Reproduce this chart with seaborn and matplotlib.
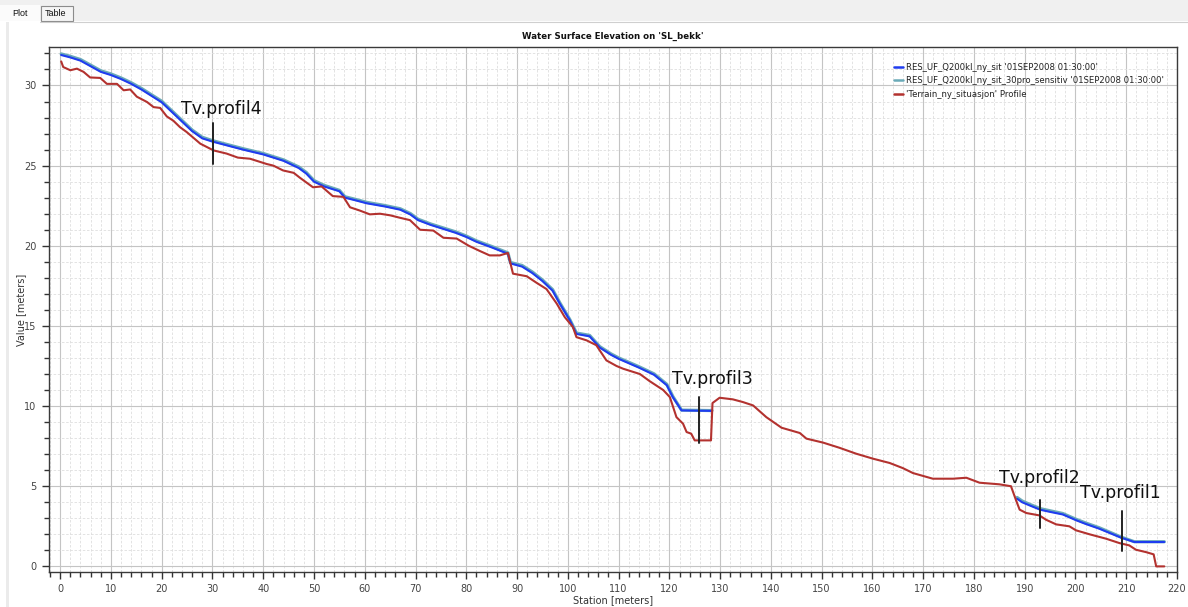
import numpy as np
import pandas as pd
import matplotlib
matplotlib.use("Agg")
import matplotlib.pyplot as plt
from matplotlib.lines import Line2D
from matplotlib.patches import Rectangle
from matplotlib.ticker import MultipleLocator
import seaborn as sns

# ---------------- data ----------------
ws_station = [0.2, 2, 4, 6, 8, 10, 12, 14, 16, 18, 20, 22, 24, 26, 28, 30, 33, 36, 40, 44,
              47, 48.5, 50, 52, 55, 56.1, 58, 60.4, 64, 67, 69, 70.5, 73, 75, 78, 80, 82, 85,
              88.2, 88.7, 91, 93, 95, 97, 98.4, 100.4, 101.7, 104.3, 106.3, 108.5, 110, 114,
              117, 119.5, 120.7, 122.4, 128.4,
              188.5, 189.5, 191, 193.1, 195, 197.5, 200.2, 202, 204.7, 207, 209, 211.6, 217.5]
ws_segment = [1] * 57 + [2] * 13
ws_q200 = [31.9, 31.75, 31.55, 31.2, 30.85, 30.65, 30.4, 30.1, 29.75, 29.35, 28.95, 28.35,
           27.75, 27.15, 26.7, 26.5, 26.25, 26.0, 25.7, 25.3, 24.85, 24.5, 24.0, 23.7, 23.4,
           23.0, 22.85, 22.65, 22.45, 22.25, 21.95, 21.6, 21.3, 21.1, 20.8, 20.55, 20.25, 19.9,
           19.5, 18.9, 18.7, 18.3, 17.8, 17.2, 16.4, 15.35, 14.5, 14.35, 13.65, 13.2, 12.95,
           12.4, 11.95, 11.3, 10.55, 9.73, 9.7,
           4.22, 4.0, 3.8, 3.53, 3.4, 3.24, 2.87, 2.65, 2.35, 2.05, 1.79, 1.52, 1.52]
ws_q200_30pro = [31.97, 31.82, 31.62, 31.27, 30.92, 30.72, 30.47, 30.17, 29.82, 29.42, 29.02,
                 28.42, 27.82, 27.22, 26.77, 26.56, 26.31, 26.06, 25.76, 25.36, 24.92, 24.57,
                 24.07, 23.77, 23.46, 23.06, 22.91, 22.71, 22.51, 22.31, 22.01, 21.66, 21.36,
                 21.16, 20.86, 20.61, 20.31, 19.96, 19.56, 18.96, 18.77, 18.37, 17.87, 17.27,
                 16.46, 15.4, 14.56, 14.41, 13.71, 13.26, 13.01, 12.46, 12.01, 11.36, 10.6,
                 9.75, 9.72,
                 4.3, 4.08, 3.87, 3.6, 3.47, 3.3, 2.93, 2.71, 2.41, 2.1, 1.83, 1.54, 1.54]

terrain_station = [0.2, 0.6, 2, 3.3, 4.6, 5.9, 7.9, 9.2, 11.2, 12.5, 13.8, 15.1, 17.1, 18.4,
                   19.7, 21, 22.3, 23.6, 24.9, 26.2, 27.6, 30.2, 32.8, 35, 37.4, 40.7, 42,
                   43.9, 46, 47.2, 49.8, 51.5, 53.7, 55.8, 57.1, 59, 61, 63, 65, 66.9, 68.9,
                   70.9, 73.5, 75.5, 78.1, 80.5, 82.7, 84.6, 86.6, 88.2, 89.2, 91.9, 93.8,
                   95.8, 97.8, 99.4, 101, 101.7, 103.7, 105.6, 107.6, 109.6, 110.9, 114.2,
                   116.1, 118.8, 120.1, 121.4, 122.7, 123.4, 124.3, 125, 128.2, 128.5, 129.9,
                   132.5, 134.5, 136.5, 139.1, 142.1, 145.7, 147, 150.3, 153.5, 156.8, 160.1,
                   163.4, 166, 168, 171.9, 175.9, 178.5, 181.1, 185, 187.3, 188.3, 189, 190.3,
                   192.9, 194.2, 196.2, 198.8, 200.1, 202.8, 206, 208.7, 210.6, 211.9, 213.9,
                   215.4, 215.9, 217.5]
terrain = [31.5, 31.15, 30.95, 31.05, 30.85, 30.5, 30.47, 30.1, 30.1, 29.7, 29.75, 29.3,
           28.97, 28.65, 28.6, 28.07, 27.8, 27.4, 27.1, 26.75, 26.37, 25.95, 25.75, 25.5,
           25.43, 25.1, 25.0, 24.7, 24.55, 24.25, 23.65, 23.7, 23.1, 23.05, 22.4, 22.2,
           21.96, 22.0, 21.9, 21.75, 21.6, 21.0, 20.95, 20.5, 20.45, 20.0, 19.67, 19.4, 19.4,
           19.55, 18.26, 18.1, 17.7, 17.3, 16.4, 15.55, 14.93, 14.3, 14.1, 13.8, 12.85, 12.5,
           12.33, 12.0, 11.56, 11.0, 10.56, 9.31, 8.9, 8.38, 8.28, 7.86, 7.86, 10.19, 10.52,
           10.42, 10.25, 10.04, 9.31, 8.65, 8.32, 7.97, 7.72, 7.4, 7.03, 6.72, 6.45, 6.13,
           5.82, 5.47, 5.47, 5.53, 5.22, 5.12, 5.0, 4.12, 3.54, 3.33, 3.18, 2.91, 2.62, 2.5,
           2.25, 2.0, 1.73, 1.45, 1.31, 1.04, 0.89, 0.75, 0.0, 0.0]

series_names = ["RES_UF_Q200kl_ny_sit '01SEP2008 01:30:00'",
                "RES_UF_Q200kl_ny_sit_30pro_sensitiv '01SEP2008 01:30:00'",
                "'Terrain_ny_situasjon' Profile"]
series_colors = ["#1f3cf0", "#6aaab8", "#b3322f"]

profile_labels = ["Tv.profil4", "Tv.profil3", "Tv.profil2", "Tv.profil1"]
profile_station = [30.1, 125.8, 193.1, 209.1]
profile_line_top = [27.65, 10.56, 4.16, 3.43]
profile_line_bottom = [25.08, 7.7, 2.39, 0.96]
profile_text_x = [23.9, 120.6, 185.0, 200.8]
profile_text_y = [28.24, 11.4, 5.2, 4.26]

title = "Water Surface Elevation on 'SL_bekk'"
xlabel = "Station [meters]"
ylabel = "Value [meters]"

# ---------------- build long table ----------------
frames = []
frames.append(pd.DataFrame({"station": ws_station, "value": ws_q200_30pro,
                            "series": series_names[1],
                            "unit": [f"b{s}" for s in ws_segment]}))
frames.append(pd.DataFrame({"station": ws_station, "value": ws_q200,
                            "series": series_names[0],
                            "unit": [f"a{s}" for s in ws_segment]}))
frames.append(pd.DataFrame({"station": terrain_station, "value": terrain,
                            "series": series_names[2], "unit": "c1"}))
df = pd.concat(frames, ignore_index=True)

# ---------------- figure ----------------
sns.set_theme(style="white")
plt.rcParams["font.family"] = ["DejaVu Sans"]

fig = plt.figure(figsize=(11.88, 6.07), dpi=100)
fig.patch.set_facecolor("white")
W, H = 1188.0, 607.0

# window chrome: tab bar
fig.patches.append(Rectangle((0, 1 - 21 / H), 1, 21 / H, transform=fig.transFigure,
                             facecolor="#f0f0f0", edgecolor="none", zorder=0))
fig.patches.append(Rectangle((0, 1 - 21 / H), 40 / W, 16 / H, transform=fig.transFigure,
                             facecolor="#fbfbfb", edgecolor="none", zorder=1))
fig.patches.append(Rectangle((41 / W, 1 - 21 / H), 32 / W, 15 / H, transform=fig.transFigure,
                             facecolor="#f5f5f5", edgecolor="#8c8c8c", lw=0.8, zorder=1))
fig.lines.append(Line2D([40 / W, 1], [1 - 21.5 / H, 1 - 21.5 / H], transform=fig.transFigure,
                        color="#cfcfcf", lw=0.8))
fig.patches.append(Rectangle((6 / W, 0), 2.5 / W, 1 - 22 / H, transform=fig.transFigure,
                             facecolor="#ebebeb", edgecolor="none", zorder=0))
fig.text(12 / W, 1 - 14 / H, "Plot", fontsize=6.5, color="#111111", va="center",
         family=["Liberation Sans"])
fig.text(45 / W, 1 - 14 / H, "Table", fontsize=6.5, color="#111111", va="center",
         family=["Liberation Sans"])

ax = fig.add_axes([49 / W, 1 - 572 / H, (1177 - 49) / W, (572 - 47) / H])
ax.set_facecolor("white")

hue_order = [series_names[1], series_names[0], series_names[2]]
sns.lineplot(data=df, x="station", y="value", hue="series", units="unit",
             estimator=None, sort=False, hue_order=hue_order,
             palette=dict(zip(series_names, series_colors)), linewidth=1.8,
             legend=False, ax=ax)
# teal wider underneath, blue on top, terrain last
for ln, w in zip(ax.get_lines(), [2.3, 2.3, 1.5, 1.5, 1.5]):
    ln.set_linewidth(w)

# profile markers
for lab, sx, yt, yb, tx, ty in zip(profile_labels, profile_station, profile_line_top,
                                   profile_line_bottom, profile_text_x, profile_text_y):
    ax.plot([sx, sx], [yb, yt], color="#222222", lw=1.4, zorder=5)
    ax.text(tx, ty, lab, fontsize=12.5, color="#111111", va="baseline", ha="left", zorder=6)

ax.set_xlim(-2.2, 220)
ax.set_ylim(-0.35, 32.4)
ax.xaxis.set_major_locator(MultipleLocator(10))
ax.xaxis.set_minor_locator(MultipleLocator(2))
ax.yaxis.set_major_locator(MultipleLocator(5))
ax.yaxis.set_minor_locator(MultipleLocator(1))
ax.grid(which="major", color="#c4c4c4", lw=0.8, ls="-")
ax.grid(which="minor", color="#dedede", lw=0.6, ls=(0, (3, 2)))
ax.set_axisbelow(True)

ax.tick_params(which="major", direction="out", length=5, width=1.0, color="#333333",
               labelsize=7, labelcolor="#444444", pad=4, left=True, bottom=True)
ax.tick_params(which="minor", direction="out", length=3.5, width=1.0, color="#333333",
               left=True, bottom=True)
for sp in ax.spines.values():
    sp.set_color("#3a3a3a")
    sp.set_linewidth(1.0)

ax.set_xlabel(xlabel, fontsize=7, color="#333333", va="center")
ax.set_ylabel(ylabel, fontsize=7, color="#333333", va="center")
ax.xaxis.set_label_coords(0.5, -0.053)
ax.yaxis.set_label_coords(-0.0245, 0.5)
ax.set_title(title, fontsize=6.2, fontweight="bold", color="#111111", pad=6)

handles = [Line2D([0], [0], color=c, lw=1.8) for c in series_colors]
leg = ax.legend(handles, series_names, loc="upper right", bbox_to_anchor=(0.993, 0.98),
                frameon=False, fontsize=6.15, handlelength=1.0, handletextpad=0.4,
                labelspacing=0.55, borderaxespad=0.2)
for t in leg.get_texts():
    t.set_color("#222222")

fig.savefig("out.png", dpi=100)
